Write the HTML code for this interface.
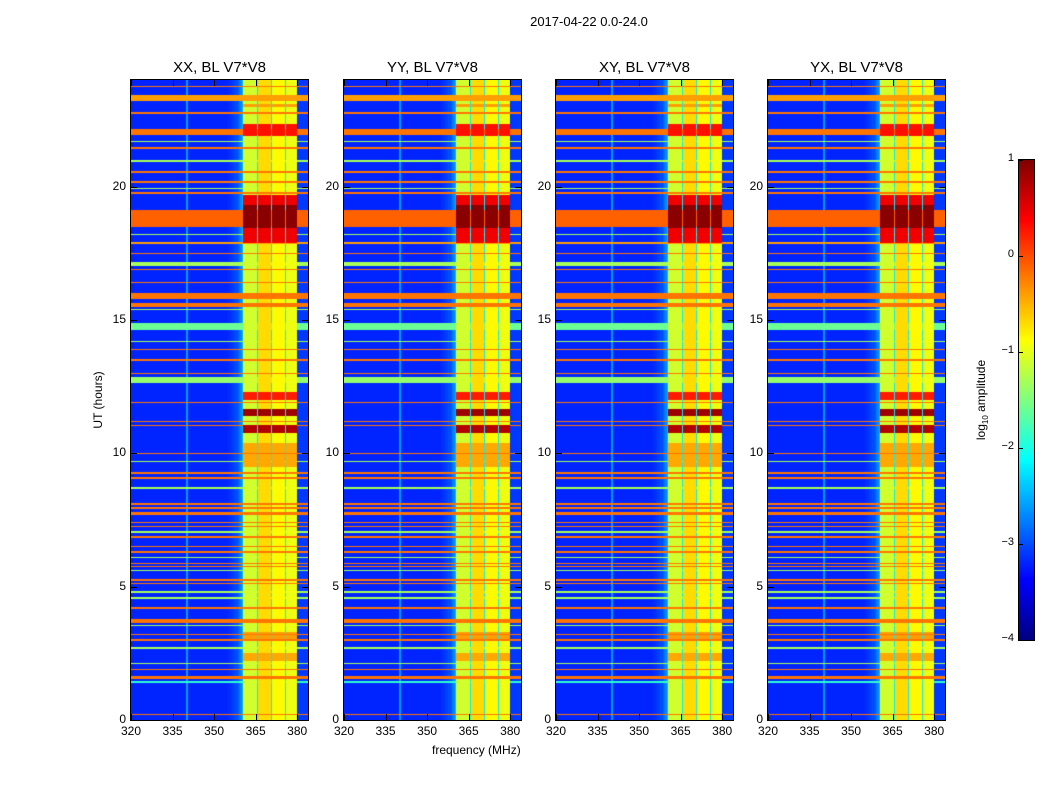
<!DOCTYPE html>
<html><head><meta charset="utf-8">
<style>
body{margin:0;background:#fff;font-family:"Liberation Sans",sans-serif;}
#root{position:relative;width:1050px;height:800px;overflow:hidden;background:#fff;}
.t{position:absolute;color:#000;white-space:nowrap;}
.panel{position:absolute;top:80px;width:177px;height:640px;}
.panel canvas{position:absolute;left:0;top:0;}
.frame{position:absolute;left:-1px;top:-1px;width:177px;height:640px;border:1px solid #000;}
.tk{position:absolute;background:#000;}
</style></head>
<body>
<div id="root">
<div class="t" style="left:489px;top:14px;width:200px;text-align:center;font-size:13px;">2017-04-22 0.0-24.0</div>
<div class="t" style="left:432px;top:743px;font-size:12px;">frequency (MHz)</div>
<div class="t" style="left:98px;top:400px;font-size:12px;transform:translate(-50%,-50%) rotate(-90deg);">UT (hours)</div>
<div class="t" style="left:982px;top:400px;font-size:12px;transform:translate(-50%,-50%) rotate(-90deg);">log<sub style="font-size:8px">10</sub> amplitude</div>
<canvas id="cbar" width="15" height="480" style="position:absolute;left:1019px;top:160px;outline:1px solid #000;"></canvas>
</div>
<script>
// ---- data ----
const panelTitles = ["XX, BL V7*V8","YY, BL V7*V8","XY, BL V7*V8","YX, BL V7*V8"];
const panelLefts = [131,344,556,768];
const freqTicks = [320,335,350,365,380];
const hourTicks = [0,5,10,15,20];
const cbarTicks = [1,0,-1,-2,-3,-4];
// per-channel baseline log amplitude, 0.5 MHz channels from 320 MHz
const channelLevels = [
-3.2,-3.2,-3.2,-3.2,-3.2,-3.2,-3.2,-3.2,-3.2,-3.2,
-3.2,-3.2,-3.2,-3.2,-3.2,-3.2,-3.2,-3.2,-3.2,-3.2,
-3.2,-3.2,-3.2,-3.2,-3.2,-3.2,-3.2,-3.2,-3.2,-3.2,
-3.2,-3.2,-3.2,-3.2,-3.2,-3.2,-3.2,-3.2,-3.2,-3.2,
-2.6,-3.2,-3.2,-3.2,-3.2,-3.2,-3.2,-3.2,-3.2,-3.2,
-3.2,-3.2,-3.2,-3.2,-3.2,-3.2,-3.2,-3.2,-3.2,-3.2,
-3.2,-3.2,-3.2,-3.2,-3.2,-3.2,-3.2,-3.2,-3.2,-3.2,
-3.15,-3.15,-3.1,-3.1,-3.05,-3.0,-3.0,-2.9,-2.8,-2.7,
-2.5,-1.1,-1.1,-1.1,-1.1,-1.1,-1.1,-1.1,-1.1,-1.1,
-1.1,-2.2,-0.7,-0.7,-0.7,-0.7,-0.7,-0.7,-0.7,-0.7,
-0.7,-2.2,-0.85,-0.85,-0.85,-0.85,-0.85,-0.85,-0.85,-0.85,
-0.85,-2.2,-0.95,-0.95,-0.95,-0.95,-0.95,-0.95,-0.95,-0.95,
-3.1,-3.1,-3.1,-3.1,-3.1,-3.1,-3.1,-3.1];
// horizontal RFI lines: hour, level, width (hours)
const lineHours  = [23.75,23.33,22.76,22.1,21.97,21.7,21.45,20.96,20.55,20.17,19.94,19.76,18.8,18.2,17.9,17.5,17.1,16.9,16.4,15.9,15.55,15.4,14.75,14.2,13.9,13.5,13.0,12.75,11.9,11.2,11.05,10.0,9.7,9.26,9.08,8.7,8.1,7.95,7.75,7.4,7.25,7.05,6.86,6.5,6.3,6.1,5.88,5.75,5.6,5.25,5.13,4.8,4.57,4.2,3.7,3.55,3.2,3.0,2.7,2.13,1.9,1.6,1.43,0.2];
const lineLevels = [-0.2,-0.4,-0.2,-0.2,-0.2,-1.3,-0.2,-1.3,-0.2,-0.2,-1.3,-0.2,-0.1,-1.3,-0.4,-0.2,-1.3,-0.2,-0.2,-0.2,-0.2,-1.3,-1.6,-1.3,-0.2,-0.2,-0.2,-1.4,-0.2,-0.2,-0.2,-0.2,-1.3,-0.2,-0.2,-1.3,-0.2,-0.2,-0.2,-0.2,-0.2,-1.3,-0.2,-0.2,-0.2,-1.3,-0.2,-0.2,-1.3,-0.2,-0.2,-1.3,-1.3,-0.2,-0.2,-1.3,-0.2,-0.2,-1.3,-1.3,-0.2,-0.2,-1.9,-0.2];
const lineWidths = [0.05,0.2,0.05,0.15,0.05,0.05,0.05,0.05,0.05,0.05,0.05,0.05,0.65,0.05,0.08,0.05,0.15,0.05,0.05,0.2,0.15,0.05,0.25,0.05,0.05,0.05,0.05,0.2,0.05,0.05,0.05,0.05,0.05,0.05,0.05,0.05,0.05,0.05,0.1,0.05,0.05,0.05,0.05,0.05,0.05,0.05,0.05,0.05,0.05,0.05,0.05,0.05,0.05,0.05,0.15,0.05,0.05,0.05,0.05,0.05,0.05,0.12,0.05,0.05];
// strong bursts inside the band: start hour, end hour, level
const burstStarts = [17.9,18.45,21.9,23.0,12.0,11.4,10.75,9.5,3.0,2.2];
const burstEnds   = [19.7,19.3,22.35,23.1,12.3,11.65,11.05,10.4,3.3,2.5];
const burstLevels = [0.45,0.95,0.3,-0.4,0.25,0.85,0.75,-0.45,-0.4,-0.45];

function jet(v){
  const t=Math.max(0,Math.min(1,(v+4)/5));
  const c=x=>Math.round(255*Math.max(0,Math.min(1,x)));
  return [c(1.5-Math.abs(4*t-3)),c(1.5-Math.abs(4*t-2)),c(1.5-Math.abs(4*t-1))];
}
const W=177,H=640,PXM=2.77,PXH=H/24;
const xScale=f=>(f-320)*PXM;
const yScale=h=>H-h*PXH;
function level(f,h){
  const ch=Math.max(0,Math.min(channelLevels.length-1,Math.floor((f-320)*2)));
  let v=channelLevels[ch];
  const inBand=v>-1.5;
  for(let i=0;i<lineHours.length;i++){
    if(Math.abs(h-lineHours[i])<=Math.max(lineWidths[i]/2,0.02)) v=Math.max(v,lineLevels[i]);
  }
  if(inBand){
    for(let i=0;i<burstStarts.length;i++){
      if(h>=burstStarts[i]&&h<=burstEnds[i]) v=Math.max(v,burstLevels[i]);
    }
  }
  return v;
}
const root=document.getElementById('root');
function mk(tag,cls,style,txt){
  const e=document.createElement(tag);
  if(cls)e.className=cls;
  e.style.cssText=style;
  if(txt!==undefined)e.textContent=txt;
  root.appendChild(e);
  return e;
}
const img=new Uint8ClampedArray(W*H*4);
for(let py=0;py<H;py++){
  const h=24-(py+0.5)/PXH;
  for(let px=0;px<W;px++){
    const f=320+(px+0.5)/PXM;
    const c=jet(level(f,h));
    const k=(py*W+px)*4;
    img[k]=c[0];img[k+1]=c[1];img[k+2]=c[2];img[k+3]=255;
  }
}
panelTitles.forEach((title,p)=>{
  const L=panelLefts[p];
  const tt=mk('div','t',`left:${L}px;top:59px;width:177px;text-align:center;font-size:15px;`,title);
  
  
  const pn=mk('div','panel',`left:${L}px;`);
  
  
  const cv=document.createElement('canvas');cv.width=W;cv.height=H;
  
  
  pn.appendChild(cv);
  cv.getContext('2d').putImageData(new ImageData(new Uint8ClampedArray(img),W,H),0,0);
  const fr=document.createElement('div');fr.className='frame';
  
  
  pn.appendChild(fr);
  freqTicks.forEach(f=>{
    const x=L+xScale(f);
    const lb=mk('div','t',`left:${x-20}px;top:724px;width:40px;text-align:center;font-size:12px;`,String(f));
    
    
    const a=mk('div','tk',`left:${x}px;top:714px;width:1px;height:6px;`);
    
    
    const b=mk('div','tk',`left:${x}px;top:80px;width:1px;height:6px;`);
    
    
  });
  hourTicks.forEach(hh=>{
    const y=80+yScale(hh);
    const lb=mk('div','t',`left:${L-40}px;top:${y-8}px;width:35px;text-align:right;font-size:12px;`,String(hh));
    
    
    const a=mk('div','tk',`left:${L}px;top:${y}px;width:6px;height:1px;`);
    
    
    const b=mk('div','tk',`left:${L+171}px;top:${y}px;width:6px;height:1px;`);
    
    
  });
});
const cb=document.getElementById('cbar').getContext('2d');
for(let y=0;y<480;y++){const c=jet(1-5*(y+0.5)/480);cb.fillStyle=`rgb(${c[0]},${c[1]},${c[2]})`;cb.fillRect(0,y,15,1);}
cbarTicks.forEach(v=>{
  const y=160+(1-v)/5*480;
  const lb=mk('div','t',`left:${980}px;top:${y-8}px;width:34px;text-align:right;font-size:11px;`,v<0?'\u2212'+(-v):String(v));
  
  
  const a=mk('div','tk',`left:1019px;top:${y}px;width:4px;height:1px;`);
  
  
});
</script>
</body></html>
